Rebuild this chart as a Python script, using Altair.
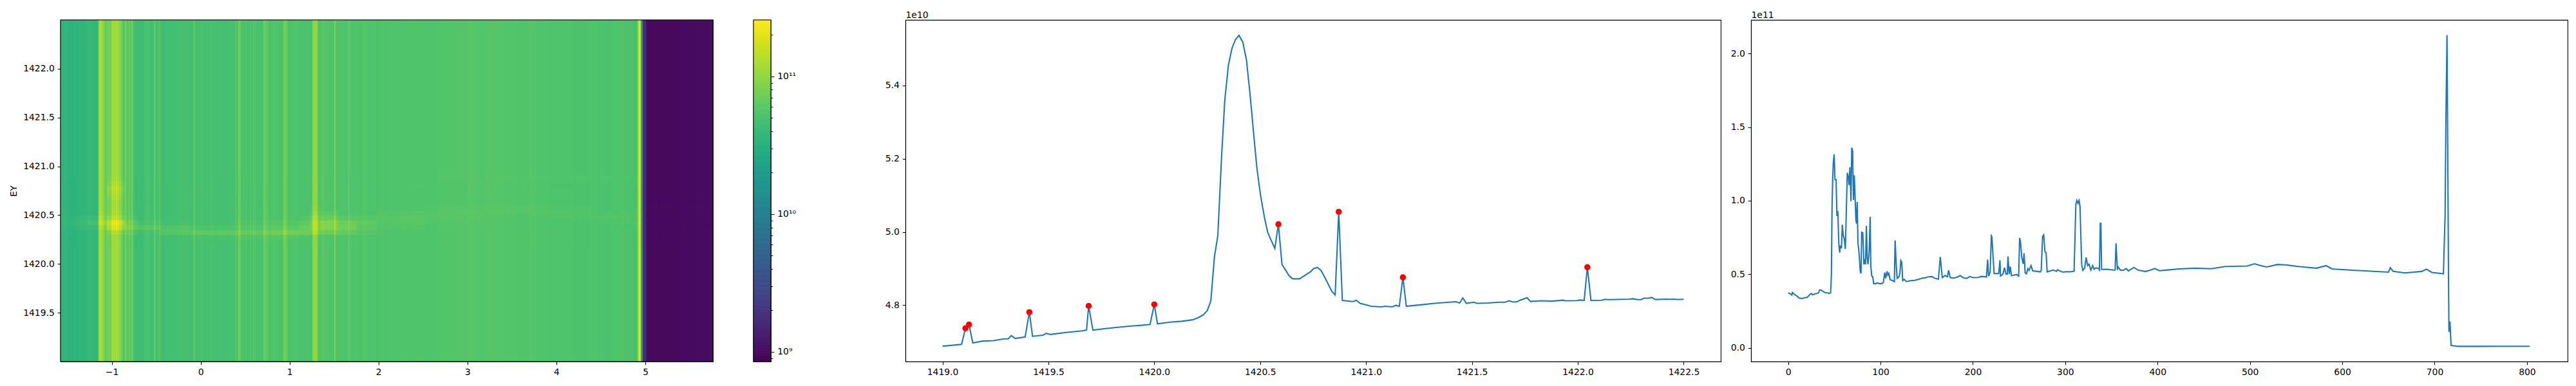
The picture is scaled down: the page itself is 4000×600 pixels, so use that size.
import altair as alt
import numpy as np

# ---------- right panel profile (x index, value in 1e11) ----------
PROFILE_X = [0,2.4,4,4.7,7,9.3,11.7,15,18.6,20.5,23.3,25,26.3,30,33,34,35.4,38.4,40.7,43,44.2,46,46.8,47.5,48.2,48.9,49.8,50.7,51.9,52.8,53.7,54.9,55.8,56.5,57.7,58.6,59.5,60.7,61.9,62.8,64,65,66,66.8,67.5,68,68.9,69.8,70.7,71.6,72.6,73.3,74,74.7,75.6,76.8,78,78.9,79.6,80.8,82,82.8,83.8,84.7,85.6,86.5,87.7,88.8,89.5,90.5,91.6,92.6,95,96.5,98.8,101,103,104.6,105.6,107,108,109,110.5,113,115,115.8,117,118,120,121,122,123,124,125.6,128,
 132.5,137,141,146,147.6,151,155.8,158,162.7,164.7,166.9,169.8,172.5,173.7,175.5,179,183.7,186,190,193.5,196.5,200,206,209.5,214.7,216,217,218.7,220,220.6,221.8,223,227,228,229.3,230,232.6,234.3,235.8,237.3,238,239.3,240.5,241.7,245,247.3,249.6,250.6,251.5,253,254.5,255.4,256.6,258,259.6,260.8,263,264.8,268.3,273,274,275.5,276.7,278,279.3,280.4,287,290.4,291.6,297.4,301,305.6,309.6,311.5,312.6,313.8,315,316,317.8,319,321,322.6,324.3,325.7,327.8,329.7,331.3,333,336,337,338,338.6,339.4,345,352,354,355,356.5,357.4,359.8,363,366,368.4,374.3,379,387,392,397,402,411,423,441,458,473,497,505,512,518,530,539,554,572,582.5,589,614,650,652,655,668,686,691,697,709.5,711.3,712.2,713.4,714.2,715,715.5,716.6,717.8,725,750,775,790,803]
PROFILE_Y = [.373,.367,.358,.376,.361,.353,.338,.335,.341,.341,.36,.369,.361,.367,.373,.393,.393,.38,.373,.373,.369,.373,.494,.946,1.15,1.259,1.315,1.143,1.143,.895,.931,.698,.647,.695,.676,.837,.771,.742,.672,.887,1.19,1.165,1.106,1.228,1.106,.997,1.361,1.34,1.004,1.172,1.004,.873,.844,.992,.713,.64,.523,.505,.785,.782,.567,.603,.567,.829,.61,.567,.654,.89,.552,.487,.482,.436,.436,.441,.436,.436,.443,.511,.472,.519,.494,.505,.462,.457,.45,.73,.567,.472,.482,.508,.593,.581,.457,.465,.45,
 .456,.458,.465,.475,.474,.481,.484,.474,.466,.618,.477,.491,.483,.526,.477,.474,.481,.491,.475,.472,.484,.477,.478,.485,.481,.599,.486,.516,.762,.756,.625,.504,.505,.504,.595,.488,.501,.545,.501,.501,.621,.501,.552,.491,.494,.498,.487,.746,.724,.611,.57,.643,.509,.503,.538,.526,.559,.523,.52,.516,.526,.757,.767,.654,.647,.516,.528,.52,.529,.514,.517,.516,.52,.975,1.002,.983,1.002,.961,.567,.526,.541,.614,.559,.569,.528,.559,.534,.543,.54,.53,.846,.846,.533,.534,.528,.528,.71,.53,.549,.527,.527,.539,.522,.546,.527,.519,.527,.539,.524,.529,.536,.541,.537,.552,.556,.571,.558,.549,.566,.563,.551,.541,.558,.536,.526,.514,.544,.519,.509,.519,.534,.512,.503,.899,1.55,2.126,1.342,.486,.108,.178,.016,.0095,.0095,.0098,.0100,.0102]

# ---------- middle panel (energy, value in 1e10) ----------
EY_X = [1419.0,1419.09,1419.108,1419.125,1419.143,1419.19,1419.24,1419.29,1419.31,1419.325,1419.343,1419.39,1419.41,1419.425,1419.475,1419.49,1419.51,1419.59,1419.66,1419.68,1419.69,1419.71,1419.77,1419.82,1419.89,1419.94,1419.98,1420.0,1420.015,1420.08,1420.13,1420.18,1420.205,1420.23,1420.25,1420.267,1420.284,1420.30,1420.317,1420.3325,1420.35,1420.367,1420.383,1420.40,1420.418,1420.435,1420.452,1420.469,1420.485,1420.502,1420.52,1420.536,1420.569,1420.586,1420.603,1420.636,1420.653,1420.686,1420.737,1420.753,1420.77,1420.787,1420.805,1420.838,1420.854,1420.871,1420.888,1420.939,1420.954,1420.972,1421.005,1421.023,1421.073,1421.09,1421.124,1421.14,1421.157,1421.174,1421.19,1421.242,1421.323,1421.424,1421.442,1421.457,1421.474,1421.507,1421.525,1421.576,1421.626,1421.656,1421.676,1421.691,1421.712,1421.727,1421.742,1421.76,1421.777,1421.828,1421.878,1421.929,1421.944,1421.995,1422.013,1422.03,1422.045,1422.062,1422.111,1422.129,1422.147,1422.243,1422.26,1422.283,1422.298,1422.313,1422.334,1422.349,1422.366,1422.415,1422.435,1422.455,1422.47,1422.50]
EY_Y = [4.688,4.693,4.737,4.747,4.697,4.702,4.703,4.708,4.708,4.717,4.709,4.713,4.781,4.715,4.718,4.723,4.72,4.726,4.73,4.732,4.798,4.732,4.736,4.739,4.743,4.745,4.7475,4.802,4.749,4.754,4.756,4.76,4.765,4.773,4.785,4.812,4.932,4.99,5.198,5.357,5.456,5.502,5.525,5.537,5.518,5.471,5.377,5.269,5.172,5.099,5.04,4.998,4.955,5.021,4.911,4.881,4.872,4.872,4.891,4.90,4.903,4.895,4.876,4.838,4.828,5.055,4.813,4.81,4.8135,4.805,4.80,4.797,4.7955,4.797,4.7955,4.7995,4.797,4.876,4.797,4.80,4.805,4.8095,4.806,4.8195,4.805,4.808,4.805,4.806,4.808,4.808,4.812,4.809,4.809,4.8135,4.8165,4.8205,4.81,4.812,4.811,4.8135,4.812,4.8125,4.814,4.813,4.9037,4.813,4.8135,4.816,4.815,4.8165,4.8175,4.815,4.815,4.819,4.819,4.821,4.8153,4.8165,4.816,4.8165,4.8155,4.816]
PEAK_X = [1419.108,1419.125,1419.41,1419.69,1420.0,1420.586,1420.871,1421.174,1422.045]
PEAK_Y = [4.737,4.747,4.781,4.798,4.802,5.021,5.055,4.876,4.9037]

# ---------- heatmap: boost (%) of each row band on each column group ----------
HEAT_X_MIN, HEAT_X_MAX = -1.576, 5.76
INDEX_TO_X = 0.009136
GROUP_EDGES = [-1.6,-1.40,-1.25,-1.15,-1.05,-0.85,-0.70,-0.45,-0.1,0.4,0.8,1.1,1.22,1.35,1.55,1.75,2.0,2.5,3.2,4.0,4.5,4.95,5.8]
ROW_EDGES = [1420.20,1420.25,1420.30,1420.35,1420.40,1420.45,1420.50,1420.55,1420.60,1420.65,1420.70,1420.75,1420.80,1420.85,1420.90]
BOOST = [
 [0,0,0,4,8,4,0,0,0,0,0,0,0,0],
 [0,0,0,8,16,8,0,0,0,0,0,0,0,0],
 [0,0,0,12,25,10,0,0,0,0,0,0,0,0],
 [0,0,0,15,40,15,5,0,0,0,0,0,0,0],
 [0,0,15,70,90,30,12,8,8,12,20,30,15,5],
 [0,0,10,35,25,5,0,0,0,0,0,0,0,0],
 [0,0,5,25,8,0,0,0,0,0,0,0,0,0],
 [0,0,22,18,3,0,0,0,0,0,0,0,0,0],
 [0,5,28,10,0,0,0,0,0,0,0,0,0,0],
 [0,8,28,12,5,0,0,0,0,0,0,0,0,0],
 [0,10,40,18,8,0,0,0,0,0,0,0,0,0],
 [0,5,40,35,20,8,0,0,0,0,0,0,0,0],
 [0,0,35,50,50,30,12,5,0,0,0,0,0,0],
 [0,0,30,60,60,25,8,0,0,0,0,0,0,0],
 [0,0,20,40,35,10,0,0,0,0,0,0,0,0],
 [0,0,8,15,20,10,0,0,0,0,0,0,0,0],
 [0,0,0,4,8,10,4,0,0,0,0,0,0,0],
 [0,0,0,0,2,4,5,3,0,0,0,0,0,1],
 [0,0,0,0,0,0,4,3,0,0,0,0,0,2],
 [0,0,0,0,0,3,4,2,0,0,0,0,0,2],
 [0,0,0,0,4,6,2,0,0,0,0,0,0,2],
 [0,0,0,0,0,0,0,0,0,0,0,0,0,0],
]

FONT = "DejaVu Sans"
FS = 13.9
H = 531
COLOR_DOMAIN = [8.5e8, 2.57e11]
MAJOR = [1e9, 1e10, 1e11]
MINOR = [9e8,2e9,3e9,4e9,5e9,6e9,7e9,8e9,9e9,2e10,3e10,4e10,5e10,6e10,7e10,8e10,9e10,2e11]

color_scale = alt.Scale(type="log", domain=COLOR_DOMAIN, scheme="viridis", clamp=True, nice=False)
AX = dict(domainColor="black", domainWidth=1.1, tickColor="black", tickWidth=1.1, tickSize=4.86,
          labelPadding=4.86, labelFont=FONT, labelFontSize=FS, labelColor="black", grid=False)

# heatmap cells
xs = [HEAT_X_MIN + i * INDEX_TO_X for i in PROFILE_X]
mids = [xs[0]] + [(a + b) / 2 for a, b in zip(xs[:-1], xs[1:])] + [HEAT_X_MAX]
cells = []
for i, v in enumerate(PROFILE_Y):
    c = (mids[i] + mids[i + 1]) / 2
    g = max(j for j in range(len(GROUP_EDGES) - 1) if GROUP_EDGES[j] <= c) if c >= GROUP_EDGES[0] else 0
    base = v * 1e11
    cells.append(dict(x=mids[i], x2=mids[i + 1], y=1419.0, y2=ROW_EDGES[0], v=base))
    cells.append(dict(x=mids[i], x2=mids[i + 1], y=ROW_EDGES[-1], y2=1422.5, v=base))
    for r in range(len(ROW_EDGES) - 1):
        cells.append(dict(x=mids[i], x2=mids[i + 1], y=ROW_EDGES[r], y2=ROW_EDGES[r + 1],
                          v=base * (1 + BOOST[g][r] / 100)))

hx = alt.Scale(domain=[HEAT_X_MIN, HEAT_X_MAX], nice=False, zero=False)
hy = alt.Scale(domain=[1419.0, 1422.5], nice=False, zero=False)
heat_cells = alt.Chart(alt.Data(values=cells)).mark_rect(clip=True, strokeWidth=1.0).encode(
    x=alt.X("x:Q", scale=hx, axis=alt.Axis(values=[-1,0,1,2,3,4,5], format="d", title=None, **AX)),
    x2="x2:Q",
    y=alt.Y("y:Q", scale=hy, axis=alt.Axis(values=[1419.5,1420.0,1420.5,1421.0,1421.5,1422.0], format=".1f",
            title="EY", titleFont=FONT, titleFontSize=FS, titleFontWeight="normal", titlePadding=7, **AX)),
    y2="y2:Q",
    fill=alt.Fill("v:Q", scale=color_scale, legend=None),
    stroke=alt.Stroke("v:Q", scale=color_scale, legend=None),
)
frame_row = alt.Data(values=[dict(a=HEAT_X_MIN, b=HEAT_X_MAX, c=1419.0, d=1422.5)])
heat_frame = alt.Chart(frame_row).mark_rect(fillOpacity=0, stroke="black", strokeWidth=1.1).encode(
    x=alt.X("a:Q", scale=hx), x2="b:Q", y=alt.Y("c:Q", scale=hy), y2="d:Q")
heat = alt.layer(heat_cells, heat_frame).properties(width=1013, height=H)

# colorbar
edges = np.logspace(np.log10(COLOR_DOMAIN[0]), np.log10(COLOR_DOMAIN[1]), 200)
bar_rows = [dict(lo=float(a), hi=float(b), v=float(np.sqrt(a * b))) for a, b in zip(edges[:-1], edges[1:])]
by = alt.Scale(type="log", domain=COLOR_DOMAIN, nice=False)
label_expr = "datum.value==1e11?'10¹¹':datum.value==1e10?'10¹⁰':datum.value==1e9?'10⁹':''"
bar_axis = dict(AX)
bar_axis.pop("tickSize")
bar_cells = alt.Chart(alt.Data(values=bar_rows)).mark_rect(strokeWidth=1.0).encode(
    x=alt.value(0), x2=alt.value(27),
    y=alt.Y("lo:Q", scale=by, title=None, axis=alt.Axis(orient="right", values=MAJOR + MINOR, labelExpr=label_expr,
            domain=False, tickSize={"condition": {"test": "datum.value==1e9||datum.value==1e10||datum.value==1e11", "value": 4.86}, "value": 2.8},
            **bar_axis)),
    y2="hi:Q",
    fill=alt.Fill("v:Q", scale=color_scale, legend=None),
    stroke=alt.Stroke("v:Q", scale=color_scale, legend=None),
)
bar_frame = alt.Chart(alt.Data(values=[dict(c=COLOR_DOMAIN[0], d=COLOR_DOMAIN[1])])).mark_rect(
    fillOpacity=0, stroke="black", strokeWidth=1.1).encode(
    x=alt.value(0), x2=alt.value(27), y=alt.Y("c:Q", scale=by, title=None), y2="d:Q")
colorbar = alt.layer(bar_cells, bar_frame).properties(width=27, height=H)

# line panels
def offset_axis(text, values, fmt):
    return alt.Axis(values=values, format=fmt, title=text, titleAngle=0, titleAlign="left", titleBaseline="alphabetic",
                    titleX=0, titleY=-4, titleFont=FONT, titleFontSize=FS, titleFontWeight="normal", **AX)

m_x = alt.Scale(domain=[1418.825, 1422.675], nice=False, zero=False)
m_y = alt.Scale(domain=[4.646, 5.579], nice=False, zero=False)
mid_rows = [dict(x=a, y=b) for a, b in zip(EY_X, EY_Y)]
peak_rows = [dict(x=a, y=b) for a, b in zip(PEAK_X, PEAK_Y)]
mid_line = alt.Chart(alt.Data(values=mid_rows)).mark_line(color="#1f77b4", strokeWidth=2.08).encode(
    x=alt.X("x:Q", scale=m_x, axis=alt.Axis(values=[1419.0,1419.5,1420.0,1420.5,1421.0,1421.5,1422.0,1422.5], format=".1f", title=None, **AX)),
    y=alt.Y("y:Q", scale=m_y, axis=offset_axis("1e10", [4.8,5.0,5.2,5.4], ".1f")),
)
mid_pts = alt.Chart(alt.Data(values=peak_rows)).mark_point(filled=True, color="#ff0000", opacity=1, size=90).encode(
    x=alt.X("x:Q", scale=m_x), y=alt.Y("y:Q", scale=m_y))
middle = alt.layer(mid_line, mid_pts).properties(width=1266, height=H)

r_x = alt.Scale(domain=[-40.2, 844], nice=False, zero=False)
r_y = alt.Scale(domain=[-0.094, 2.229], nice=False, zero=False)
right = alt.Chart(alt.Data(values=[dict(x=a, y=b) for a, b in zip(PROFILE_X, PROFILE_Y)])).mark_line(
    color="#1f77b4", strokeWidth=2.08).encode(
    x=alt.X("x:Q", scale=r_x, axis=alt.Axis(values=[0,100,200,300,400,500,600,700,800], format="d", title=None, **AX)),
    y=alt.Y("y:Q", scale=r_y, axis=offset_axis("1e11", [0.0,0.5,1.0,1.5,2.0], ".1f")),
).properties(width=1268, height=H)

def spacer(w):
    return alt.Chart(alt.Data(values=[dict(a=0)])).mark_point(opacity=0).encode(
        x=alt.value(0), y=alt.value(0)).properties(width=w, height=H, view=alt.ViewConfig(stroke="transparent"))

chart = alt.hconcat(heat, spacer(63), colorbar, spacer(209), middle, spacer(47), right, spacing=0, bounds="flush").resolve_scale(
    x="independent", y="independent"
).properties(padding={"left": 6, "top": 7, "right": 2, "bottom": 2}, background="white").configure_view(
    stroke="black", strokeWidth=1.1)

chart.save("out.html", embed_options={"renderer": "svg", "actions": False})
